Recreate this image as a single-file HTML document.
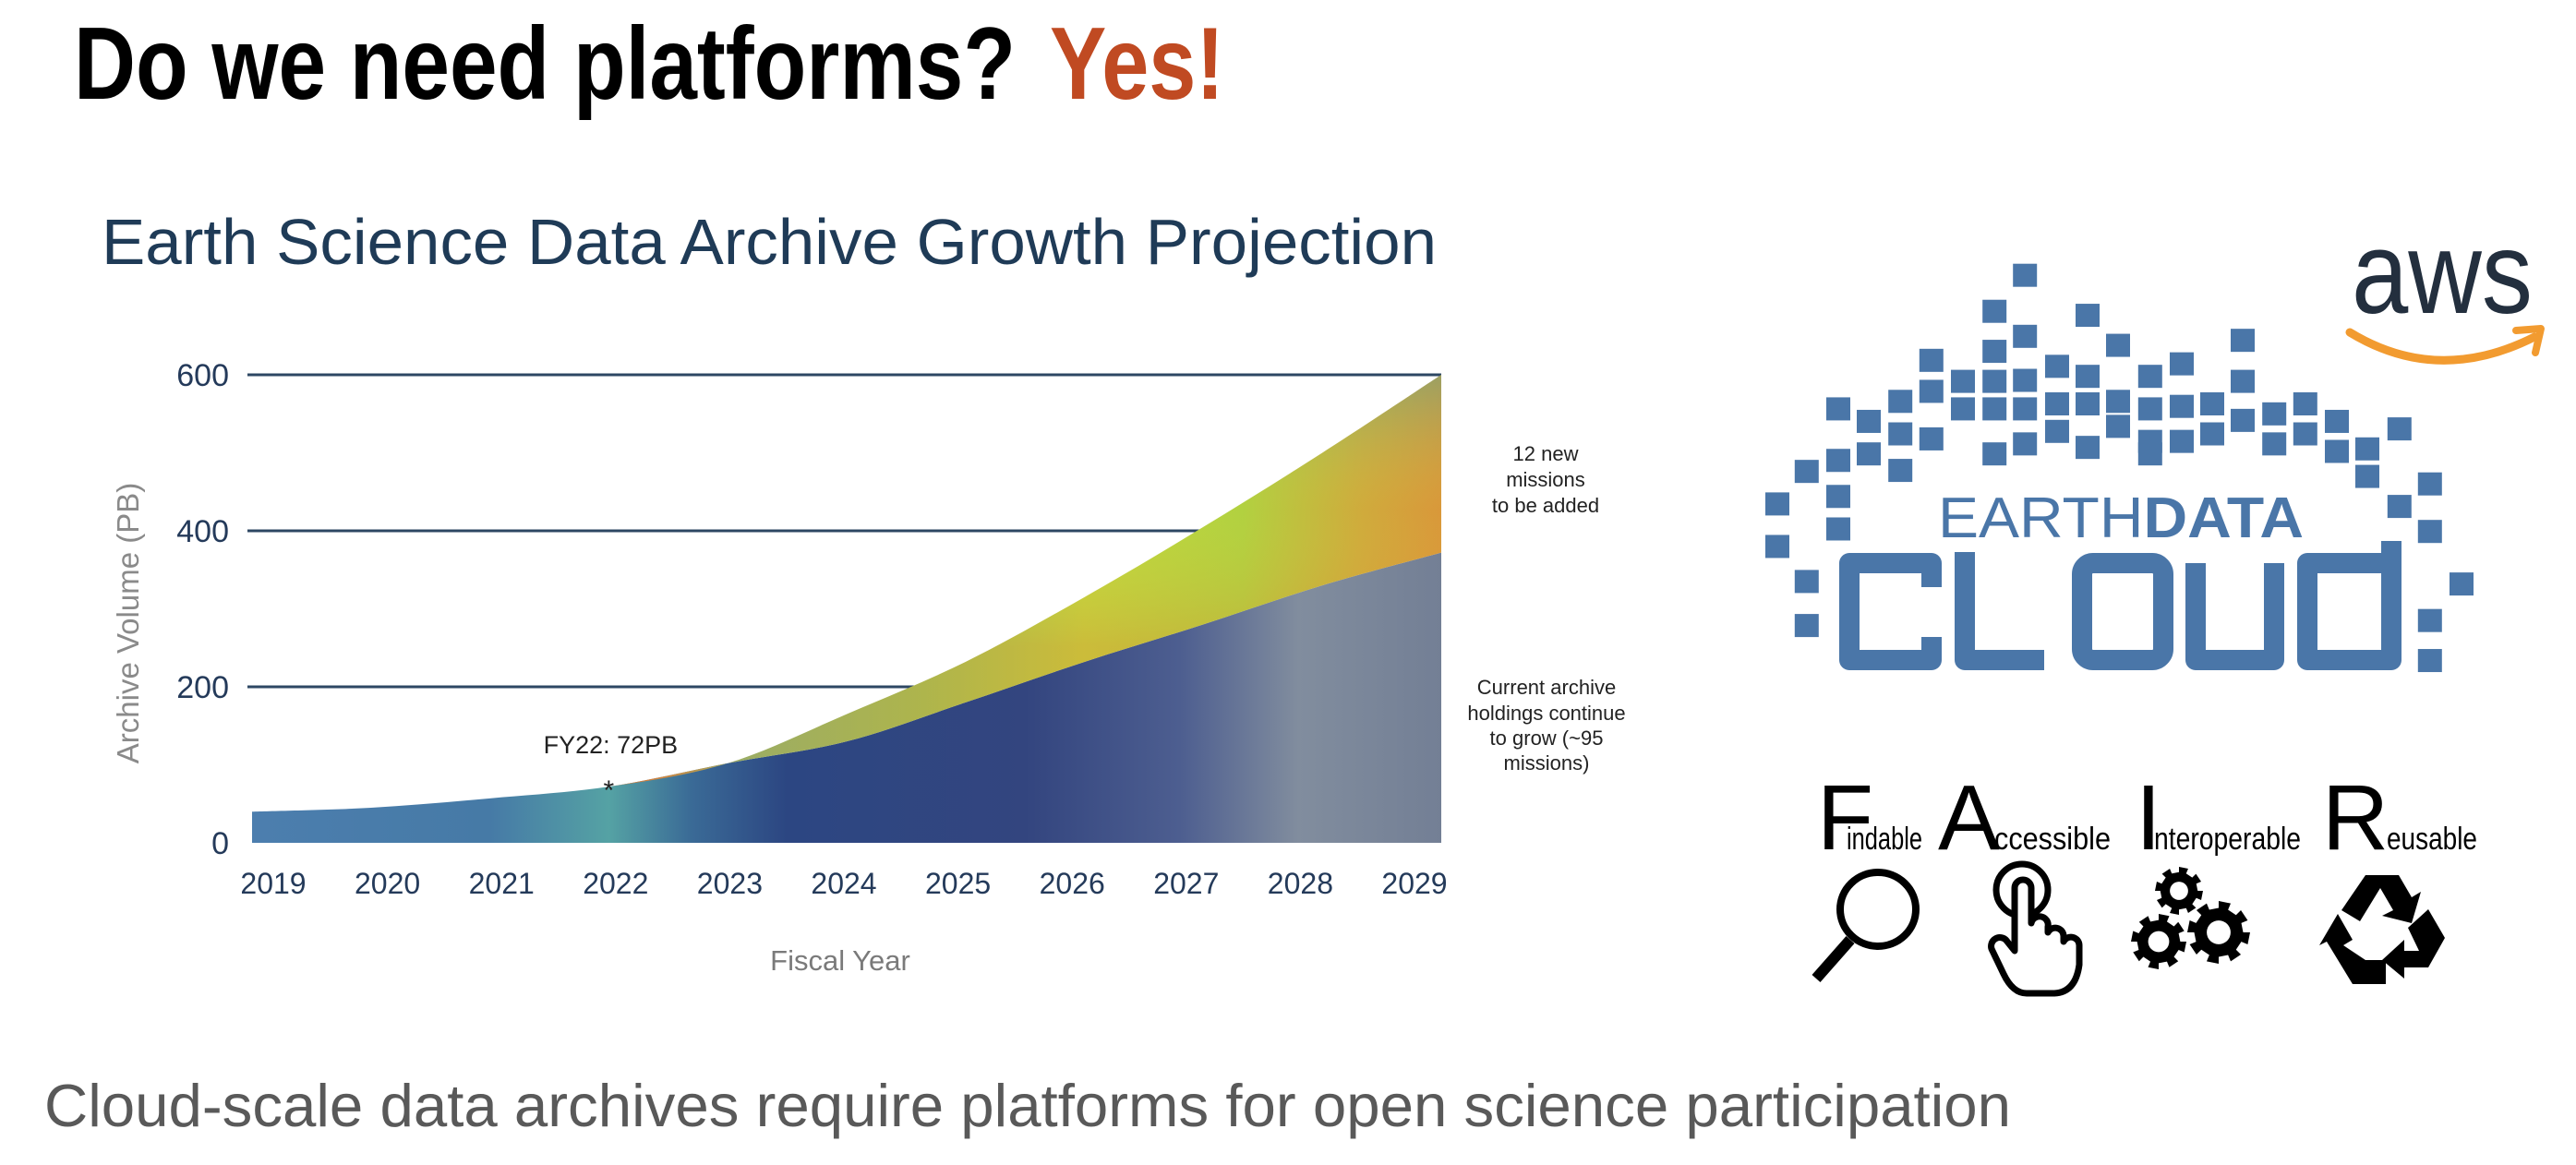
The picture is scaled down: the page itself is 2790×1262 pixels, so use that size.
<!DOCTYPE html>
<html><head><meta charset="utf-8"><style>
html,body{margin:0;padding:0;background:#fff}
svg{display:block}
text{font-family:"Liberation Sans",sans-serif}
</style></head><body>
<svg id="root" width="2790" height="1262" viewBox="0 0 2790 1262" xmlns="http://www.w3.org/2000/svg">
<defs>
<linearGradient id="lowGrad" x1="273" y1="0" x2="1561" y2="0" gradientUnits="userSpaceOnUse">
<stop offset="0" stop-color="#4c7eae"/><stop offset="0.2" stop-color="#467aa6"/><stop offset="0.3" stop-color="#55a2a4"/><stop offset="0.37" stop-color="#3a6a96"/><stop offset="0.45" stop-color="#2c4682"/><stop offset="0.65" stop-color="#33457f"/><stop offset="0.78" stop-color="#4d5e90"/><stop offset="0.88" stop-color="#818d9e"/><stop offset="1" stop-color="#737f95"/>
</linearGradient>
<linearGradient id="upGrad" x1="700" y1="0" x2="1561" y2="0" gradientUnits="userSpaceOnUse">
<stop offset="0" stop-color="#d08040"/><stop offset="0.12" stop-color="#7cc27a"/><stop offset="0.35" stop-color="#96ce58"/><stop offset="0.55" stop-color="#c0d83e"/><stop offset="0.75" stop-color="#b0d040"/><stop offset="0.9" stop-color="#cfa83c"/><stop offset="1" stop-color="#d9943a"/>
</linearGradient>
<linearGradient id="upShade" x1="0" y1="406" x2="0" y2="700" gradientUnits="userSpaceOnUse">
<stop offset="0" stop-color="#40b0a0" stop-opacity="0.4"/><stop offset="0.5" stop-color="#d8e040" stop-opacity="0.05"/><stop offset="1" stop-color="#e67a30" stop-opacity="0.3"/>
</linearGradient>
</defs>

<text x="80" y="107" font-size="111" font-weight="bold" fill="#000" textLength="1020" lengthAdjust="spacingAndGlyphs">Do we need platforms?</text>
<text x="1137" y="107" font-size="111" font-weight="bold" fill="#c04a22" textLength="189" lengthAdjust="spacingAndGlyphs">Yes!</text>

<text x="110" y="286" font-size="70" fill="#1f3b57" textLength="1446" lengthAdjust="spacingAndGlyphs">Earth Science Data Archive Growth Projection</text>

<g id="chart"></g>

<text x="48" y="1220" font-size="65" fill="#595959" textLength="2130" lengthAdjust="spacingAndGlyphs">Cloud-scale data archives require platforms for open science participation</text>

<g>
<text x="2547" y="339" font-size="126" fill="#232f3e" textLength="196" lengthAdjust="spacingAndGlyphs">aws</text>
<path d="M2545 360 Q2640 418 2745 365" fill="none" stroke="#f29b30" stroke-width="9" stroke-linecap="round"/>
<path d="M2725 358 L2752 356 L2746 382" fill="none" stroke="#f29b30" stroke-width="8" stroke-linecap="round" stroke-linejoin="round"/>
</g>

<g id="earthdata">
<g id="squares" fill="#4a76a8"></g>
<text x="2099" y="582" font-size="62" fill="#4a76a8" textLength="396" lengthAdjust="spacingAndGlyphs">EARTH<tspan font-weight="bold">DATA</tspan></text>
<g fill="none" stroke="#4a76a8" stroke-width="22" stroke-linejoin="round">
<path d="M2092 636 V610 H2003 V715 H2092 V690"/>
<path d="M2128 598 V715 H2214"/>
<rect x="2255" y="610" width="88" height="105" rx="12"/>
<path d="M2378 610 V715 H2463 V610"/>
<path d="M2590 586 V715 H2499 V610 H2590"/>
</g>
</g>

<g>
<g fill="#000">
<text x="1968" y="920" font-size="100">F</text>
<text x="2000" y="920" font-size="34" textLength="82" lengthAdjust="spacingAndGlyphs">indable</text>
<text x="2099" y="920" font-size="100">A</text>
<text x="2160" y="920" font-size="34" textLength="126" lengthAdjust="spacingAndGlyphs">ccessible</text>
<text x="2313" y="920" font-size="100">I</text>
<text x="2333" y="920" font-size="34" textLength="159" lengthAdjust="spacingAndGlyphs">nteroperable</text>
<text x="2515" y="920" font-size="100">R</text>
<text x="2585" y="920" font-size="34" textLength="98" lengthAdjust="spacingAndGlyphs">eusable</text>
</g>
<g>
<ellipse cx="2034" cy="985" rx="41" ry="40" fill="none" stroke="#000" stroke-width="8"/>
<line x1="2004" y1="1018" x2="1967" y2="1060" stroke="#000" stroke-width="12"/>
</g>
<g fill="none" stroke="#000" stroke-width="7" stroke-linejoin="round">
<circle cx="2190" cy="964" r="28"/>
<path d="M2182 1030 V962 a9 9 0 0 1 18 0 V1000 a9 9 0 0 1 18 4 V1010 a9 9 0 0 1 17 4 V1020 a9 9 0 0 1 17 4 V1045 Q2248 1075 2225 1076 H2195 Q2180 1076 2170 1055 L2158 1030 a9 9 0 0 1 16 -10 Z" fill="#fff"/>
</g>
<g id="gears"></g>
<g fill="#000">
<path d="M2562 948 L2598 948 L2612 972 L2622 966 L2612 1000 L2580 992 L2592 986 L2578 962 L2556 998 L2536 986 Z"/>
<path d="M2532 990 L2548 1018 L2538 1024 L2562 1040 L2584 1040 L2584 1066 L2548 1066 L2520 1020 L2512 1024 Z"/>
<path d="M2630 985 L2648 1016 L2630 1048 L2604 1048 L2604 1060 L2580 1040 L2604 1018 L2604 1030 L2620 1030 L2608 1005 Z"/>
</g>
</g>
</svg>

<script>
var years = [2019,2020,2021,2022,2023,2024,2025,2026,2027,2028,2029];
var totalPB = [40,45,57,72,102,165,232,315,405,500,600];
var currentPB = [40,45,57,72,102,130,180,232,280,330,372];
var yTicks = [0,200,400,600];
var yTickLabels = ["0","200","400","600"];
var xTickLabels = ["2019","2020","2021","2022","2023","2024","2025","2026","2027","2028","2029"];
var gridEnds = [0,990,1316,1561];

var NS = "http://www.w3.org/2000/svg";
var chart = document.getElementById('chart');
function xScale(yr){ return 273 + (yr-2019)*(1561-273)/10; }
function yScale(v){ return 913 - v*(913-406)/600; }
function xLabel(i){ return 296 + i*(1532-296)/10; }
function mk(tag, attrs, parent){ var e=document.createElementNS(NS,tag); for(var key in attrs) e.setAttribute(key,attrs[key]); (parent||chart).appendChild(e); return e; }
function smooth(pts){
  var d = "";
  for (var i=0;i<pts.length-1;i++){
    var p0=pts[Math.max(i-1,0)], p1=pts[i], p2=pts[i+1], p3=pts[Math.min(i+2,pts.length-1)];
    var c1x=p1[0]+(p2[0]-p0[0])/6, c1y=p1[1]+(p2[1]-p0[1])/6;
    var c2x=p2[0]-(p3[0]-p1[0])/6, c2y=p2[1]-(p3[1]-p1[1])/6;
    d += " C"+c1x+" "+c1y+" "+c2x+" "+c2y+" "+p2[0]+" "+p2[1];
  }
  return d;
}

for (var g=1; g<yTicks.length; g++){
  var gl = mk('line',{x1:268,x2:gridEnds[g],y1:yScale(yTicks[g]),y2:yScale(yTicks[g]),stroke:'#2d4763','stroke-width':3});
  
  
}

var topPts = years.map(function(y,i){ return [xScale(y), yScale(totalPB[i])]; });
var curPts = years.map(function(y,i){ return [xScale(y), yScale(currentPB[i])]; });
var x0 = xScale(years[0]), x1 = xScale(years[years.length-1]);

var curD = "M"+x0+" "+yScale(0)+" L"+curPts[0][0]+" "+curPts[0][1]+smooth(curPts)+" L"+x1+" "+yScale(0)+" Z";
var ca = mk('path',{d:curD,fill:'url(#lowGrad)'});



var revCur = curPts.slice().reverse();
var bandD = "M"+topPts[0][0]+" "+topPts[0][1]+smooth(topPts)+" L"+revCur[0][0]+" "+revCur[0][1]+smooth(revCur)+" Z";
var ba = mk('path',{d:bandD,fill:'url(#upGrad)'});


var bs = mk('path',{d:bandD,fill:'url(#upShade)'});



for (var t=0;t<yTicks.length;t++){
  var yl = mk('text',{x:248,y:yScale(yTicks[t])+12,'text-anchor':'end','font-size':34,fill:'#243a5a'});
  yl.textContent = yTickLabels[t];
  
  
}
for (var k=0;k<xTickLabels.length;k++){
  var xl = mk('text',{x:xLabel(k),y:968,'text-anchor':'middle','font-size':32,fill:'#243a5a'});
  xl.textContent = xTickLabels[k];
  
  
}
var ax = mk('text',{x:910,y:1051,'text-anchor':'middle','font-size':31,fill:'#7a7a7a'});
ax.textContent = 'Fiscal Year';


var ay = mk('text',{x:0,y:0,'text-anchor':'middle','font-size':33,fill:'#8a8a8a',transform:'translate(150,675) rotate(-90)'});
ay.textContent = 'Archive Volume (PB)';



var fyIdx = 3;
var fy = mk('text',{x:xScale(years[fyIdx])+2,y:yScale(totalPB[fyIdx])-36,'text-anchor':'middle','font-size':27,fill:'#222'});
fy.textContent = 'FY22: 72PB';


var st = mk('text',{x:xScale(years[fyIdx]),y:yScale(totalPB[fyIdx])+14,'text-anchor':'middle','font-size':30,fill:'#222'});
st.textContent = '*';



var note1 = ['12 new','missions','to be added'];
var note1Y = [499,527,555];
note1.forEach(function(s,i){
  var n = mk('text',{x:1674,y:note1Y[i],'text-anchor':'middle','font-size':22,fill:'#222'});
  n.textContent = s;
  
  
});
var note2 = ['Current archive','holdings continue','to grow (~95','missions)'];
var note2Y = [752,780,807,834];
note2.forEach(function(s,i){
  var n = mk('text',{x:1675,y:note2Y[i],'text-anchor':'middle','font-size':22,fill:'#222'});
  n.textContent = s;
  
  
});

var sq = [[572,88],[517,160],[685,168],[572,210],[740,228],[965,218],[517,240],[403,258],[630,270],[855,265],
[460,300],[517,300],[572,298],[685,290],[798,290],[965,300],
[235,355],[347,340],[403,320],[460,355],[517,355],[572,355],[630,345],[685,345],[740,340],[798,355],[855,350],[910,345],[965,378],[1022,365],[1078,345],
[290,380],[347,405],[403,415],[572,425],[630,400],[740,390],[798,420],[855,420],[910,405],[1022,425],[1078,405],[1135,380],[1190,435],[1248,395],
[178,480],[235,458],[290,445],[347,478],[517,445],[685,432],[798,445],[1135,440],[1190,490],
[125,545],[235,530],[1248,550],[1303,505],[125,630],[235,595],[1303,600],[178,700],[1360,705],[178,788],[1303,778],[1303,858]];
var sg = document.getElementById('squares');
sq.forEach(function(p){
  var r = mk('rect',{x:1850+p[0]*0.6-13,y:250+p[1]*0.542-12,width:26,height:25},sg);
  
  
});

var gears = [[2360,965,26],[2338,1020,30],[2403,1010,34]];
var gg = document.getElementById('gears');
gears.forEach(function(gr){
  var cx=gr[0], cy=gr[1], r=gr[2], d="";
  var n=8;
  for (var i=0;i<n*2;i++){
    var a0=(i/(n*2))*Math.PI*2, a1=((i+1)/(n*2))*Math.PI*2;
    var rr = (i%2==0)? r : r*0.78;
    d += (i==0?"M":"L")+(cx+rr*Math.cos(a0))+" "+(cy+rr*Math.sin(a0))+" L"+(cx+rr*Math.cos(a1))+" "+(cy+rr*Math.sin(a1))+" ";
  }
  d += "Z";
  var p = mk('path',{d:d,fill:'#000'},gg);
  
  
  var h = mk('circle',{cx:cx,cy:cy,r:r*0.38,fill:'#fff'},gg);
  
  
});
</script>
</body></html>
